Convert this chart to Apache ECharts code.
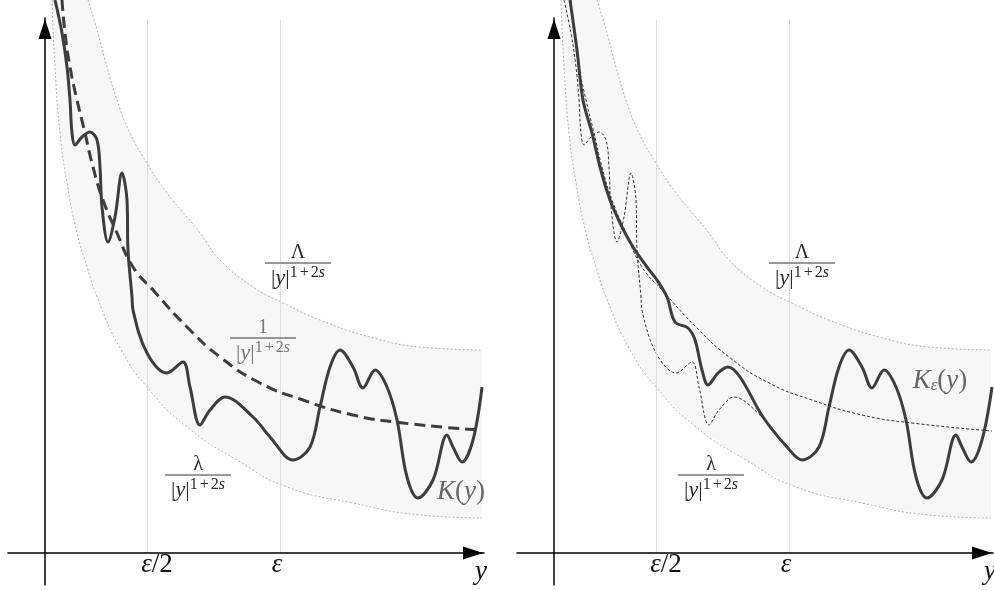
<!DOCTYPE html>
<html>
<head>
<meta charset="utf-8">
<script src="https://cdn.jsdelivr.net/npm/echarts@6/dist/echarts.min.js"></script>
<style>
html, body { margin: 0; padding: 0; background: #fff; }
#chart { width: 994px; height: 590px; }
</style>
</head>
<body>
<div id="chart"></div>
<script>
// samples, [y, value]; 1 unit = 100px, origin at the axes crossing
var upperBound = [[0.43,5.53],[0.53,5.20],[0.62,4.86],[0.72,4.53],[0.85,4.20],[1.02,3.90],[1.22,3.60],[1.42,3.36],[1.55,3.20],[1.75,2.93],[2.08,2.66],[2.38,2.50],[2.75,2.33],[3.25,2.16],[3.75,2.06],[4.37,2.03]];
var lowerBound = [[0.07,5.53],[0.10,4.86],[0.15,4.20],[0.22,3.70],[0.32,3.20],[0.42,2.86],[0.52,2.56],[0.75,2.05],[1.02,1.66],[1.42,1.26],[1.92,0.93],[2.42,0.66],[3.08,0.50],[3.75,0.38],[4.37,0.35]];
var meanCurve = [[0.17,5.53],[0.20,5.20],[0.25,4.86],[0.32,4.53],[0.40,4.20],[0.48,3.86],[0.58,3.53],[0.72,3.20],[0.88,2.86],[1.08,2.63],[1.42,2.26],[1.75,1.96],[2.15,1.70],[2.58,1.53],[3.08,1.38],[3.58,1.30],[4.33,1.23]];
var meanCurveRight = [[0.17,5.53],[0.20,5.20],[0.25,4.86],[0.32,4.53],[0.40,4.20],[0.48,3.86],[0.58,3.53],[0.72,3.20],[0.88,2.86],[1.08,2.63],[1.42,2.26],[1.75,1.96],[2.15,1.70],[2.58,1.53],[3.08,1.38],[3.58,1.30],[4.38,1.22]];
var kernel = [[0.10,5.53],[0.17,5.20],[0.22,4.86],[0.25,4.53],[0.27,4.20],[0.30,4.08],[0.37,4.16],[0.45,4.21],[0.52,4.13],[0.55,3.86],[0.57,3.46],[0.63,3.11],[0.70,3.36],[0.77,3.80],[0.82,3.53],[0.83,3.03],[0.87,2.56],[0.88,2.43],[1.02,2.00],[1.22,1.80],[1.38,1.91],[1.45,1.66],[1.55,1.28],[1.65,1.43],[1.80,1.56],[2.08,1.36],[2.25,1.16],[2.48,0.93],[2.65,1.06],[2.75,1.46],[2.85,1.86],[2.95,2.03],[3.08,1.86],[3.18,1.65],[3.30,1.83],[3.42,1.66],[3.52,1.33],[3.62,0.76],[3.73,0.55],[3.88,0.73],[4.02,1.18],[4.08,1.06],[4.17,0.91],[4.28,1.13],[4.37,1.66]];
var kernelEps = [[0.16,5.53],[0.23,5.03],[0.29,4.53],[0.38,4.20],[0.46,3.86],[0.56,3.53],[0.68,3.26],[0.79,3.06],[0.93,2.86],[1.03,2.73],[1.13,2.56],[1.21,2.31],[1.34,2.25],[1.41,2.13],[1.48,1.83],[1.54,1.68],[1.64,1.80],[1.74,1.86],[1.86,1.76],[2.09,1.36],[2.33,1.06],[2.48,0.93],[2.65,1.06],[2.75,1.46],[2.85,1.86],[2.95,2.03],[3.08,1.86],[3.18,1.65],[3.30,1.83],[3.42,1.66],[3.52,1.33],[3.62,0.76],[3.73,0.55],[3.88,0.73],[4.02,1.18],[4.08,1.06],[4.17,0.91],[4.28,1.13],[4.38,1.66]];
var tickValues = [1.02, 2.35];
var tickLabels = ['{i|ε}{n|/2}', '{i|ε}'];
var fracNumerators = ['Λ', '1', 'λ', 'Λ', 'λ'];

// layout
var xMin = -0.37, xMax = 4.39, yMin = -0.32, yMax = 5.35, guideTop = 5.33;
var serif = '"Liberation Serif", "DejaVu Serif", serif';
var fracPos = [
  { grid: 0, at: [2.53, 2.90], color: '#2a2a2a' },
  { grid: 0, at: [2.18, 2.15], color: '#777' },
  { grid: 0, at: [1.53, 0.78], color: '#2a2a2a' },
  { grid: 1, at: [2.48, 2.90], color: '#2a2a2a' },
  { grid: 1, at: [1.57, 0.78], color: '#2a2a2a' }
];
var tickLabelPos = [[1.12, -0.12], [2.32, -0.12]];

var chart = echarts.init(document.getElementById('chart'));

function axisLine() {
  return { onZero: true, symbol: ['none', 'triangle'], symbolSize: [13, 20], symbolOffset: [0, -11], lineStyle: { color: '#000', width: 1.5 } };
}
function xAx(gi) {
  return {
    type: 'value', gridIndex: gi, min: xMin, max: xMax, z: 5, axisLine: axisLine(),
    axisTick: { show: false }, axisLabel: { show: false }, splitLine: { show: false }
  };
}
function yAx(gi) {
  return {
    type: 'value', gridIndex: gi, min: yMin, max: yMax, z: 5, axisLine: axisLine(),
    axisTick: { show: false }, axisLabel: { show: false }, splitLine: { show: false }
  };
}

function band(gi) {
  return {
    type: 'custom', xAxisIndex: gi, yAxisIndex: gi, z: 1, silent: true, clip: false,
    data: [[0, 0]],
    renderItem: function (params, api) {
      var pts = upperBound.map(function (p) { return api.coord(p); })
        .concat(lowerBound.slice().reverse().map(function (p) { return api.coord(p); }));
      return { type: 'polygon', shape: { points: pts }, style: { fill: '#f7f7f7' } };
    }
  };
}

function line(gi, data, style, z, smooth) {
  return {
    type: 'line', xAxisIndex: gi, yAxisIndex: gi, data: data, symbol: 'none', showSymbol: false,
    smooth: smooth, clip: false, silent: true, z: z, lineStyle: style
  };
}

var boundStyle = { color: '#b4b4b4', width: 1, type: [2, 2] };
var thick = { color: '#3d3d3d', width: 3 };
var thinDash = { color: '#333', width: 1, type: [3, 2] };

var series = [];
[0, 1].forEach(function (gi) {
  series.push(band(gi));
  var up = line(gi, upperBound, boundStyle, 3, true);
  up.markLine = {
    symbol: 'none', silent: true, label: { show: false },
    lineStyle: { color: '#dedede', width: 1, type: 'solid' },
    data: tickValues.map(function (v) { return [{ coord: [v, 0] }, { coord: [v, guideTop] }]; })
  };
  series.push(up);
  series.push(line(gi, lowerBound, boundStyle, 3, true));
});
series.push(line(0, meanCurve, { color: '#3d3d3d', width: 3, type: [11, 6] }, 4, true));
series.push(line(0, kernel, thick, 5, 0.35));
series.push(line(1, meanCurveRight, thinDash, 4, true));
series.push(line(1, kernel.filter(function (p) { return p[0] <= 2.25; }), thinDash, 4, 0.35));
series.push(line(1, kernelEps, thick, 5, 0.35));

chart.setOption({
  animation: false,
  backgroundColor: '#fff',
  grid: [
    { left: 8, top: 18, width: 476, height: 567 },
    { left: 517, top: 18, width: 476, height: 567 }
  ],
  xAxis: [xAx(0), xAx(1)],
  yAxis: [yAx(0), yAx(1)],
  series: series
});

// text labels
var g = [];
var denomRich = {
  b: { fontFamily: serif, fontSize: 22, lineHeight: 24, verticalAlign: 'bottom' },
  i: { fontFamily: serif, fontSize: 22, fontStyle: 'italic', lineHeight: 24, verticalAlign: 'bottom' },
  s: { fontFamily: serif, fontSize: 16, lineHeight: 15, verticalAlign: 'top' },
  p: { fontFamily: serif, fontSize: 16, lineHeight: 15, verticalAlign: 'top', padding: [0, 2, 0, 2] },
  si: { fontFamily: serif, fontSize: 16, fontStyle: 'italic', lineHeight: 15, verticalAlign: 'top' }
};
fracPos.forEach(function (f, k) {
  var p = chart.convertToPixel({ gridIndex: f.grid }, f.at);
  g.push({ type: 'text', z: 100, x: p[0], y: p[1] - 10, style: { text: fracNumerators[k], font: '20px ' + serif, fill: f.color, align: 'center', verticalAlign: 'middle' } });
  g.push({ type: 'line', z: 100, shape: { x1: p[0] - 33, y1: p[1], x2: p[0] + 33, y2: p[1] }, style: { stroke: '#777', lineWidth: 1.4 } });
  g.push({ type: 'text', z: 100, x: p[0], y: p[1] + 14, style: { text: '{b||}{i|y}{b||}{s|1}{p|+}{s|2}{si|s}', rich: denomRich, fill: f.color, align: 'center', verticalAlign: 'middle' } });
});
var tickRich = {
  i: { fontFamily: serif, fontSize: 27, fontStyle: 'italic' },
  n: { fontFamily: serif, fontSize: 27 }
};
[0, 1].forEach(function (gi) {
  tickLabelPos.forEach(function (pos, k) {
    var p = chart.convertToPixel({ gridIndex: gi }, pos);
    g.push({ type: 'text', z: 100, x: p[0], y: p[1], style: { text: tickLabels[k], rich: tickRich, fill: '#111', align: 'center', verticalAlign: 'middle' } });
  });
  var py = chart.convertToPixel({ gridIndex: gi }, [4.36, -0.19]);
  g.push({ type: 'text', z: 100, x: py[0], y: py[1], style: { text: 'y', font: 'italic 27px ' + serif, fill: '#111', align: 'center', verticalAlign: 'middle' } });
});
var kRich = {
  i: { fontFamily: serif, fontSize: 27, fontStyle: 'italic', lineHeight: 30, verticalAlign: 'bottom' },
  n: { fontFamily: serif, fontSize: 27, lineHeight: 30, verticalAlign: 'bottom' },
  sub: { fontFamily: serif, fontSize: 17, fontStyle: 'italic', lineHeight: 20, verticalAlign: 'bottom' }
};
var pk = chart.convertToPixel({ gridIndex: 0 }, [4.16, 0.63]);
g.push({ type: 'text', z: 100, x: pk[0], y: pk[1], style: { text: '{i|K}{n|(}{i|y}{n|)}', rich: kRich, fill: '#666', align: 'center', verticalAlign: 'middle' } });
var pke = chart.convertToPixel({ gridIndex: 1 }, [3.86, 1.74]);
g.push({ type: 'text', z: 100, x: pke[0], y: pke[1], style: { text: '{i|K}{sub|ε}{n|(}{i|y}{n|)}', rich: kRich, fill: '#666', align: 'center', verticalAlign: 'middle' } });

chart.setOption({ graphic: g });
</script>
</body>
</html>
